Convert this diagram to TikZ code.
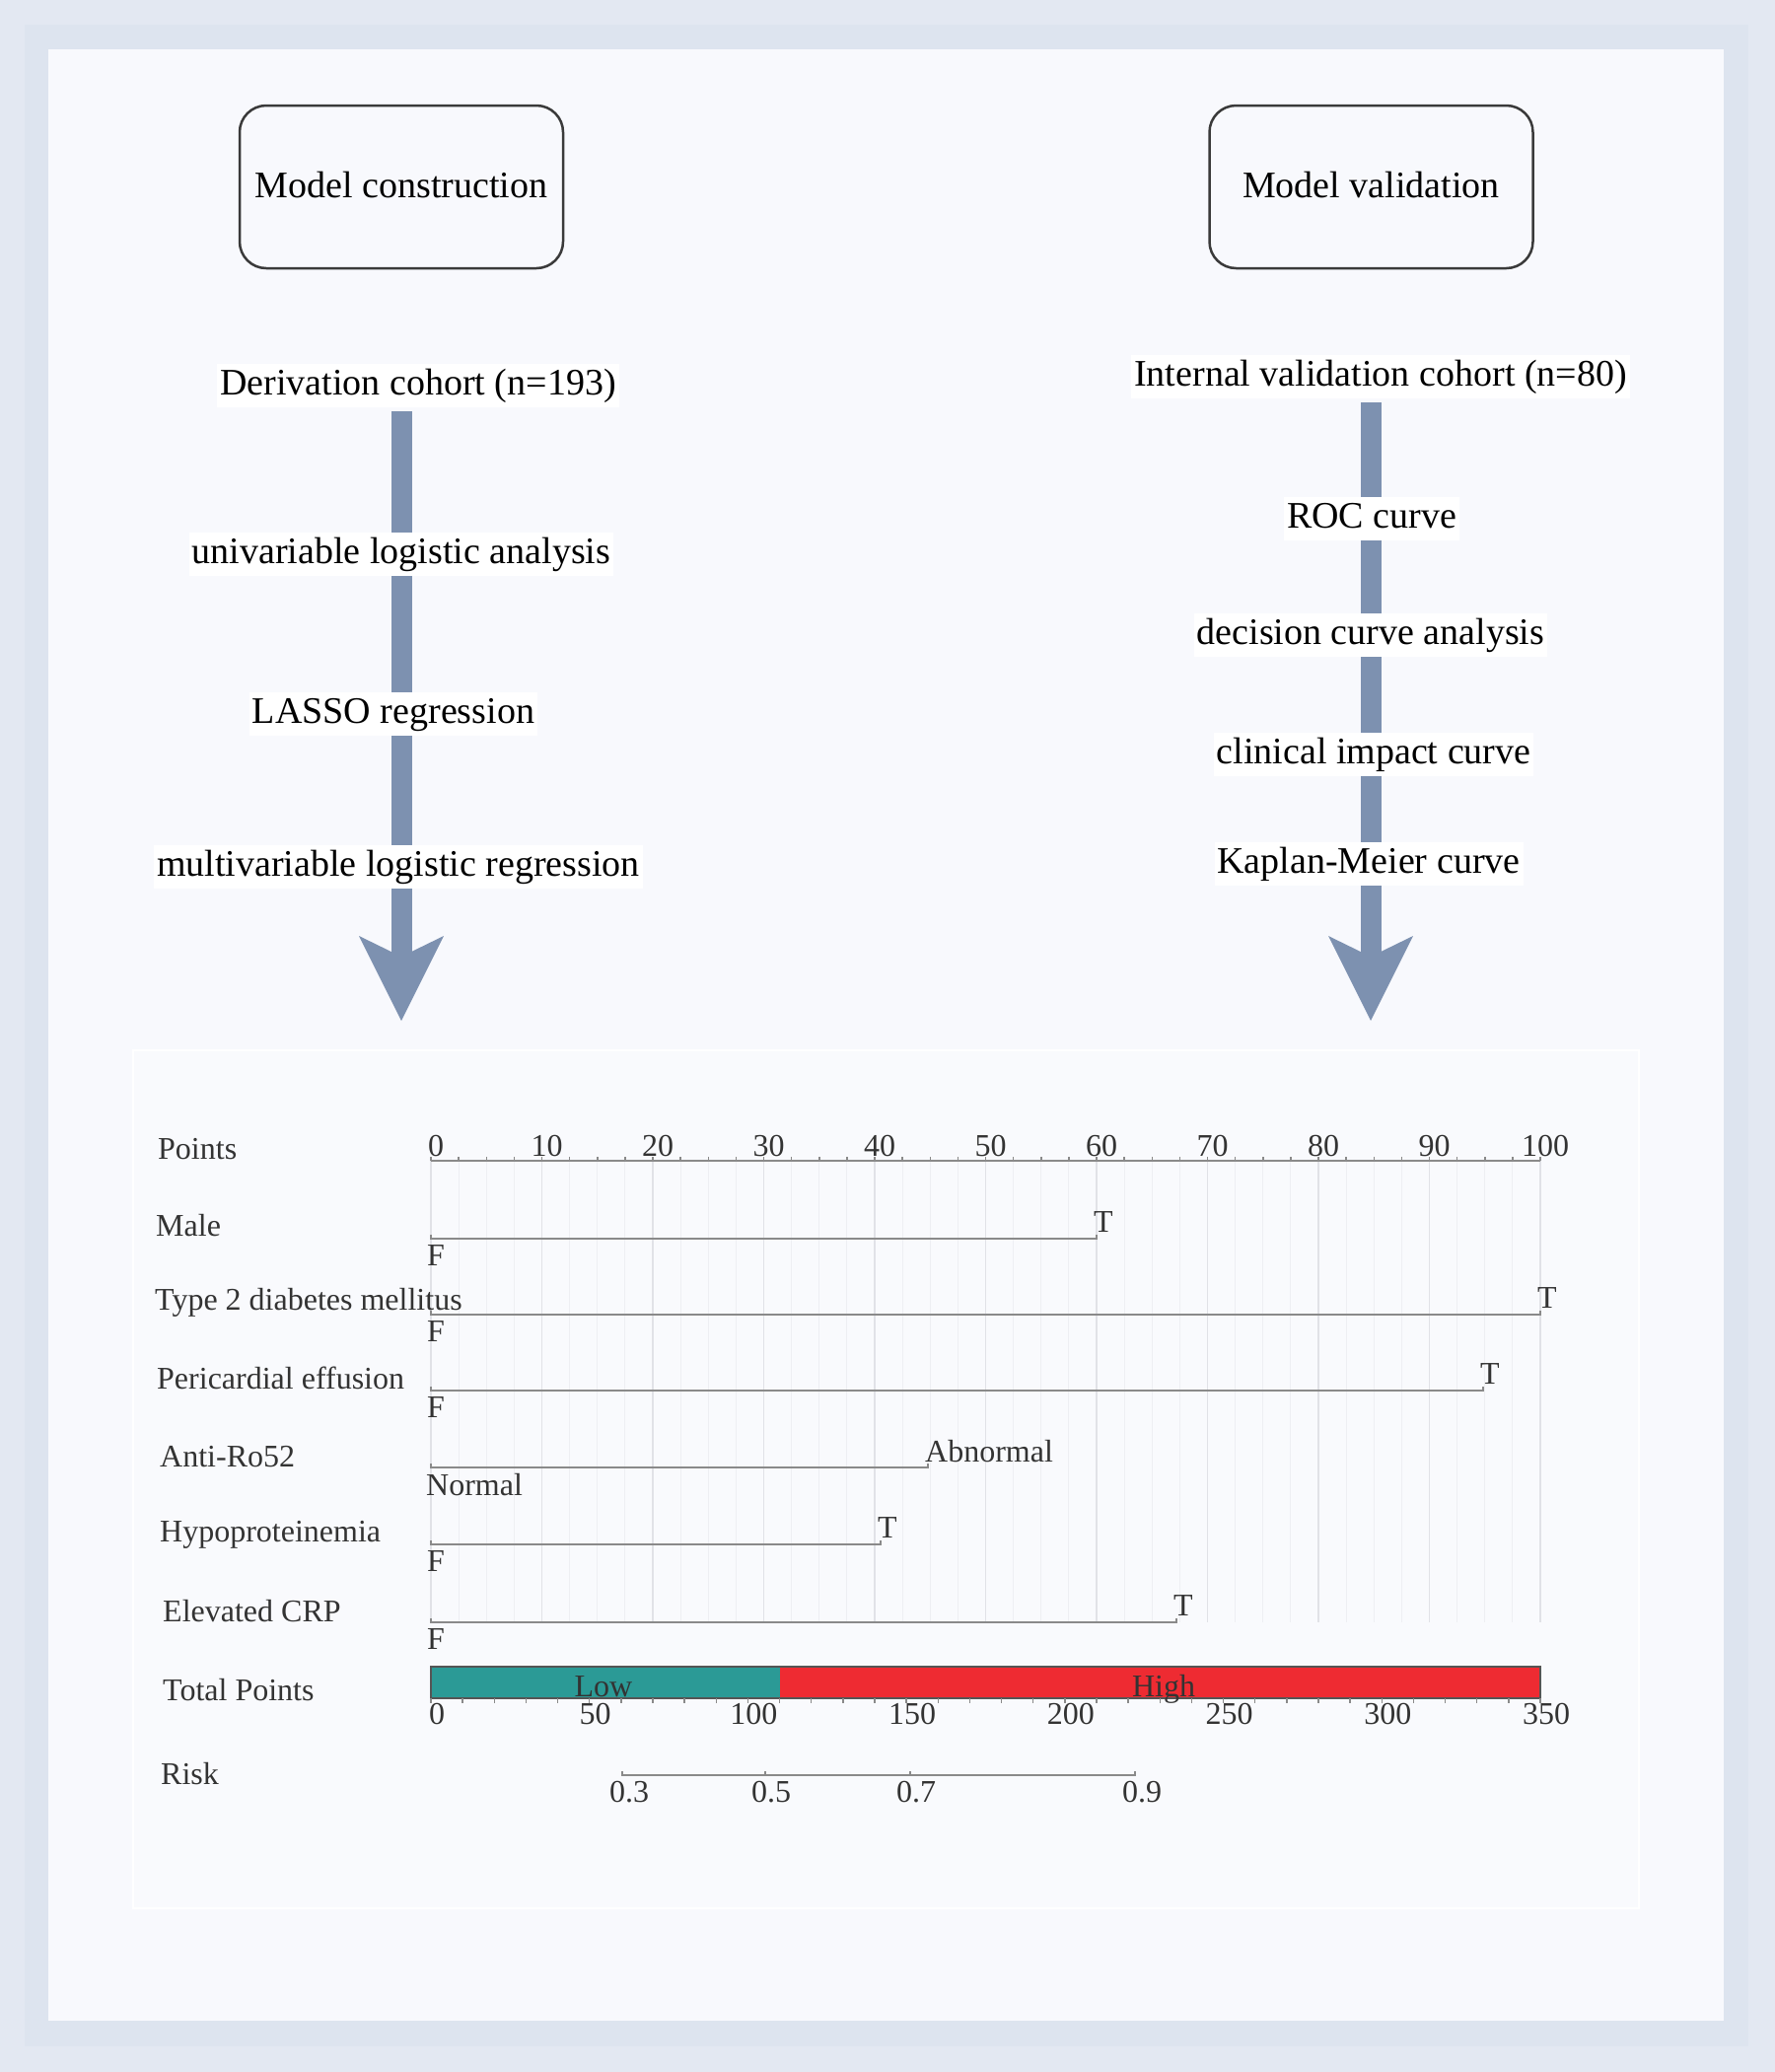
\documentclass[tikz,border=0pt]{standalone}
\usepackage{fontspec}
\setmainfont{Liberation Serif}
\usetikzlibrary{arrows.meta}
\definecolor{bandout}{HTML}{E3E8F2}
\definecolor{bandin}{HTML}{DDE4EF}
\definecolor{panel}{HTML}{F8F9FD}
\definecolor{nompanel}{HTML}{F9FAFD}
\definecolor{flow}{HTML}{7D91B0}
\definecolor{boxline}{HTML}{3A3A3A}
\definecolor{nomline}{HTML}{8A8A8A}
\definecolor{gridmin}{HTML}{EEEFF3}
\definecolor{gridmaj}{HTML}{E1E2E7}
\definecolor{lowcol}{HTML}{2B9A96}
\definecolor{highcol}{HTML}{EE2B32}
\definecolor{nomtext}{HTML}{333333}
\definecolor{barline}{HTML}{555555}
\begin{document}
\begin{tikzpicture}[x=1bp,y=-1bp,
  titlebox/.style={draw=boxline, line width=2.5bp, rounded corners=27bp, fill=panel,
    minimum width=328bp, minimum height=165bp, inner sep=0pt,
    text height=25bp, text depth=4bp, font=\fontsize{38bp}{44bp}\selectfont},
  flowlabel/.style={fill=white, anchor=base, inner xsep=3bp, inner ysep=3bp,
    text height=28bp, text depth=10bp, font=\fontsize{38bp}{44bp}\selectfont},
  flowbar/.style={draw=flow, line width=21bp,
    -{Stealth[length=86bp, width=86bp, inset=21bp, line width=0pt, fill=flow]}},
  nomfont/.style={font=\fontsize{32bp}{36bp}\selectfont, text=nomtext, inner sep=0pt},
  rowlabel/.style={nomfont, anchor=base west},
  lvl/.style={nomfont, anchor=base west},
  nomnum/.style={nomfont, anchor=base},
  nomrow/.style={draw=nomline, line width=2.4bp},
  gridminor/.style={draw=gridmin, line width=1.2bp},
  gridmajor/.style={draw=gridmaj, line width=1.3bp},
  tickmark/.style={draw=nomline, line width=1.5bp}
]
% ---------- background ----------
\useasboundingbox (0,0) rectangle (1800,2101);
\fill[bandout] (0,0) rectangle (1800,2101);
\fill[bandin] (25,25) rectangle (1773,2075);
\fill[panel] (49,50) rectangle (1748,2049);

% ---------- title boxes ----------
\node[titlebox] (mc) at (407,189.5) {Model construction};
\node[titlebox] (mv) at (1390.5,189.5) {Model validation};

% ---------- left flow ----------
\node[flowlabel] (L0) at (424,400) {Derivation cohort (n=193)};
\coordinate (tipL) at (407,1035);
\draw[flowbar, shorten <=4bp] (L0.south -| tipL) -- (tipL);
\node[flowlabel] (L1) at (407,571) {univariable logistic analysis};
\node[flowlabel] (L2) at (399,733) {LASSO regression};
\node[flowlabel] (L3) at (404,888) {multivariable logistic regression};

% ---------- right flow ----------
\node[flowlabel] (R0) at (1400,391) {Internal validation cohort (n=80)};
\coordinate (tipR) at (1390,1035);
\draw[flowbar, shorten <=4bp] (R0.south -| tipR) -- (tipR);
\node[flowlabel] (R1) at (1391,535) {ROC curve};
\node[flowlabel] (R2) at (1390,653) {decision curve analysis};
\node[flowlabel] (R3) at (1393,774) {clinical impact curve};
\node[flowlabel] (R4) at (1388,885) {Kaplan-Meier curve};

% ---------- nomogram panel ----------
\draw[white, line width=2bp, fill=nompanel] (135,1065) rectangle (1662,1935);

% grid
\foreach \i in {1,...,40} \draw[gridminor] ({437+28.125*\i},1177) -- ({437+28.125*\i},1645);
\foreach \i in {0,...,10} \draw[gridmajor] ({437+112.5*\i},1177) -- ({437+112.5*\i},1645);

% Points axis
\node[rowlabel] (lpoints) at (160,1175) {Points};
\draw[nomrow] (437,1177) -- (1562,1177);
\foreach \i in {0,...,40} \draw[tickmark] ({437+28.125*\i},1177) -- ({437+28.125*\i},1173);
\foreach \v [count=\i from 0] in {0,10,20,30,40,50,60,70,80,90,100}
  \node[nomnum] (pt\i) at ({442+112.5*\i},1172) {\v};

% Male
\node[rowlabel] (lmale) at (158,1253) {Male};
\draw[nomrow] (437,1252) -- (437,1256) -- (1112,1256) -- (1112,1252);
\node[lvl] (maleF) at (433,1283) {F};
\node[lvl] (maleT) at (1109,1249) {T};

% Type 2 diabetes mellitus
\node[rowlabel] (ldm) at (157,1328) {Type 2 diabetes mellitus};
\draw[nomrow] (437,1329) -- (437,1333) -- (1562,1333) -- (1562,1329);
\node[lvl] (dmF) at (433,1360) {F};
\node[lvl] (dmT) at (1559,1326) {T};

% Pericardial effusion
\node[rowlabel] (lpe) at (159,1408) {Pericardial effusion};
\draw[nomrow] (437,1406) -- (437,1410) -- (1504,1410) -- (1504,1406);
\node[lvl] (peF) at (433,1437) {F};
\node[lvl] (peT) at (1501,1403) {T};

% Anti-Ro52
\node[rowlabel] (lro) at (162,1487) {Anti-Ro52};
\draw[nomrow] (437,1484) -- (437,1488) -- (941,1488) -- (941,1484);
\node[lvl] (roN) at (432,1516) {Normal};
\node[lvl] (roA) at (938,1482) {Abnormal};

% Hypoproteinemia
\node[rowlabel] (lhp) at (162,1563) {Hypoproteinemia};
\draw[nomrow] (437,1562) -- (437,1566) -- (893,1566) -- (893,1562);
\node[lvl] (hpF) at (433,1593) {F};
\node[lvl] (hpT) at (890,1559) {T};

% Elevated CRP
\node[rowlabel] (lcrp) at (165,1644) {Elevated CRP};
\draw[nomrow] (437,1641) -- (437,1645) -- (1193,1645) -- (1193,1641);
\node[lvl] (crpF) at (433,1672) {F};
\node[lvl] (crpT) at (1190,1638) {T};

% Total Points
\node[rowlabel] (ltot) at (165,1724) {Total Points};
\fill[lowcol] (437,1690) rectangle (791,1722);
\fill[highcol] (791,1690) rectangle (1562,1722);
\draw[barline, line width=1.6bp] (437,1690) rectangle (1562,1722);
\foreach \i in {0,...,35} \draw[tickmark] ({437+32.1429*\i},1722) -- ({437+32.1429*\i},1727);
\node[nomnum] (low) at (612,1720) {Low};
\node[nomnum] (high) at (1180,1720) {High};
\foreach \v [count=\i from 0] in {0,50,100,150,200,250,300,350}
  \node[nomnum] (tp\i) at ({443+160.714*\i},1748) {\v};

% Risk
\node[rowlabel] (lrisk) at (163,1809) {Risk};
\draw[nomrow] (631,1796) -- (631,1800) -- (1151,1800) -- (1151,1796);
\foreach \x in {776,923} \draw[tickmark] (\x,1800) -- (\x,1796);
\node[nomnum] (r3) at (638,1827) {0.3};
\node[nomnum] (r5) at (782,1827) {0.5};
\node[nomnum] (r7) at (929,1827) {0.7};
\node[nomnum] (r9) at (1158,1827) {0.9};
\end{tikzpicture}
\end{document}
